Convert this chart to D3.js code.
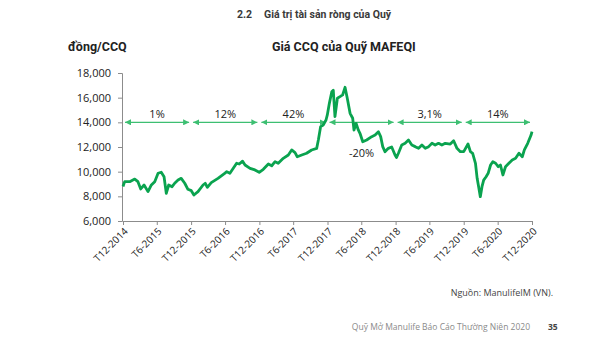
<!DOCTYPE html>
<html><head><meta charset="utf-8">
<script src="https://cdn.jsdelivr.net/npm/d3@7"></script>
<style>
html,body{margin:0;padding:0;background:#fff;}
svg{display:block;}
</style></head>
<body>
<svg id="c" width="600" height="360"></svg>
<script>
// ---- data ----
const dates = ["2014-12-31","2015-01-09","2015-02-05","2015-03-04","2015-03-21","2015-04-05","2015-04-23","2015-05-14","2015-06-01","2015-06-19","2015-07-07","2015-07-24","2015-08-08","2015-08-20","2015-09-02","2015-09-20","2015-10-04","2015-10-22","2015-11-08","2015-11-27","2015-12-14","2016-01-01","2016-01-15","2016-02-06","2016-03-04","2016-03-16","2016-03-27","2016-04-17","2016-05-23","2016-06-28","2016-07-09","2016-07-26","2016-08-13","2016-08-31","2016-09-14","2016-10-02","2016-10-15","2016-11-11","2016-12-07","2016-12-30","2017-01-21","2017-02-17","2017-03-07","2017-03-25","2017-04-11","2017-05-08","2017-06-04","2017-06-22","2017-07-10","2017-07-22","2017-08-15","2017-09-10","2017-10-07","2017-11-03","2017-11-12","2017-11-24","2017-12-08","2017-12-23","2017-12-30","2018-01-10","2018-01-23","2018-01-31","2018-02-09","2018-02-22","2018-03-08","2018-03-22","2018-04-04","2018-04-16","2018-05-01","2018-05-15","2018-05-22","2018-06-02","2018-06-14","2018-06-23","2018-07-08","2018-07-29","2018-08-25","2018-09-12","2018-09-30","2018-10-12","2018-10-23","2018-11-04","2018-11-22","2018-12-10","2018-12-28","2019-01-05","2019-01-15","2019-02-02","2019-02-20","2019-03-10","2019-03-28","2019-04-15","2019-05-03","2019-05-21","2019-06-08","2019-06-26","2019-07-14","2019-07-31","2019-08-18","2019-09-05","2019-09-23","2019-10-20","2019-11-07","2019-11-25","2019-12-13","2019-12-31","2020-01-23","2020-02-05","2020-02-17","2020-03-03","2020-03-12","2020-03-20","2020-03-29","2020-04-07","2020-04-16","2020-04-29","2020-05-10","2020-05-23","2020-06-04","2020-06-19","2020-07-03","2020-07-15","2020-07-28","2020-08-11","2020-08-29","2020-09-16","2020-10-04","2020-10-22","2020-11-09","2020-11-20","2020-12-08","2020-12-26","2020-12-31"];
const navValues = [8800,9190,9190,9400,9190,8600,8920,8380,8920,9190,9870,9950,9590,8250,8920,8780,9060,9320,9460,9060,8570,8460,8110,8380,8920,9060,8730,9110,9460,9870,10000,9870,10270,10680,10620,10850,10540,10270,10140,9950,10190,10620,10480,10810,10680,11080,11350,11760,11540,11210,11350,11490,11760,11890,12570,13650,13780,14190,14600,15540,16480,16600,14460,15950,16080,16220,16840,15950,14730,14330,13380,13920,13380,13110,12430,12570,12840,12970,13240,12840,12030,11620,11890,12000,11350,11150,11490,12160,12300,12570,12160,12030,11890,12160,11890,12030,12300,12160,12300,12160,12300,12240,12510,11890,11620,11620,12240,11620,11490,10680,9460,8780,7970,8780,9320,9590,9870,10540,10810,10680,10400,10540,9730,10400,10680,10950,11080,11490,11210,11760,12300,12970,13240];

const yTicks = [6000,8000,10000,12000,14000,16000,18000];
const xTickDates = ["2014-12-31","2015-06-30","2015-12-31","2016-06-30","2016-12-31","2017-06-30","2017-12-31","2018-06-30","2018-12-31","2019-06-30","2019-12-31","2020-06-30","2020-12-31"];
const xTickLabels = ["T12-2014","T6-2015","T12-2015","T6-2016","T12-2016","T6-2017","T12-2017","T6-2018","T12-2018","T6-2019","T12-2019","T6-2020","T12-2020"];

const periodStarts = ["2014-12-31","2015-12-31","2016-12-31","2017-12-31","2018-12-31","2019-12-31"];
const periodEnds   = ["2015-12-31","2016-12-31","2017-12-31","2018-12-31","2019-12-31","2020-12-31"];
const periodLabels = ["1%","12%","42%","-20%","3,1%","14%"];
const periodLevel = 14000;

// ---- chart ----
const parse = d3.timeParse("%Y-%m-%d");
const svg = d3.select("#c");
const x = d3.scaleTime().domain([parse("2014-12-31"), parse("2020-12-31")]).range([123, 532]);
const y = d3.scaleLinear().domain([6000, 18000]).range([221, 73]);

const green = "#0aa34f";
const arrowGreen = "#3dbf72";
const textCol = "#222";
const font = "'Open Sans', 'Noto Sans', sans-serif";

// header
svg.append("text").attr("x", 237).attr("y", 18).attr("font-family", "Roboto, sans-serif")
  .attr("font-weight", "bold").attr("font-size", 10.5).attr("fill", "#3a3a3a").text("2.2");
svg.append("text").attr("x", 264).attr("y", 18).attr("font-family", "Roboto, sans-serif")
  .attr("font-weight", "bold").attr("font-size", 10.5).attr("fill", "#3a3a3a").text("Giá trị tài sản ròng của Quỹ");

// titles
svg.append("text").attr("x", 68).attr("y", 51).attr("font-family", "Roboto, sans-serif")
  .attr("font-weight", "bold").attr("font-size", 12.5).attr("fill", textCol).text("đồng/CCQ");
svg.append("text").attr("x", 272).attr("y", 51).attr("font-family", "Roboto, sans-serif")
  .attr("font-weight", "bold").attr("font-size", 12.5).attr("fill", textCol).text("Giá CCQ của Quỹ MAFEQI");

// y axis
const gy = svg.append("g").attr("transform", "translate(122,0)")
  .call(d3.axisLeft(y).tickValues(yTicks).tickFormat(d3.format(",")).tickSize(4).tickPadding(7));
gy.select(".domain").attr("stroke", "#8c8c8c");
gy.selectAll(".tick line").attr("stroke", "#8c8c8c");
gy.selectAll(".tick text").attr("font-family", font).attr("font-size", 11).attr("fill", textCol);

// x axis
const gx = svg.append("g").attr("transform", "translate(0,221)")
  .call(d3.axisBottom(x).tickValues(xTickDates.map(parse)).tickFormat((d, i) => xTickLabels[i]).tickSize(4).tickSizeOuter(0));
gx.select(".domain").attr("stroke", "#8c8c8c");
gx.selectAll(".tick line").attr("stroke", "#8c8c8c");
gx.selectAll(".tick text").attr("font-family", font).attr("font-size", 10).attr("fill", textCol)
  .attr("text-anchor", "end").attr("dy", null).attr("y", 0)
  .attr("transform", "translate(5,11) rotate(-45)");

// period arrows
const defs = svg.append("defs");
function marker(id, path) {
  defs.append("marker").attr("id", id).attr("viewBox", "0 0 10 10").attr("refX", 10).attr("refY", 5)
    .attr("markerWidth", 5).attr("markerHeight", 5).attr("orient", "auto-start-reverse")
    .append("path").attr("d", path).attr("fill", arrowGreen);
}
marker("ah", "M0,0 L10,5 L0,10 z");
const py = y(periodLevel);
periodStarts.forEach((s, i) => {
  const x1 = x(parse(s)) + 2, x2 = x(parse(periodEnds[i])) - 2;
  svg.append("line").attr("x1", x1).attr("x2", x2).attr("y1", py).attr("y2", py)
    .attr("stroke", arrowGreen).attr("stroke-width", 1.2)
    .attr("marker-start", "url(#ah)").attr("marker-end", "url(#ah)");
  const mid = (x1 + x2) / 2;
  const below = periodLabels[i].startsWith("-");
  svg.append("text").attr("x", mid).attr("y", below ? py + 35 : py - 4)
    .attr("text-anchor", "middle").attr("font-family", font).attr("font-size", 11).attr("fill", textCol)
    .text(periodLabels[i]);
});

// line
const series = dates.map((d, i) => ({ date: parse(d), v: navValues[i] }));
svg.append("path").datum(series)
  .attr("fill", "none").attr("stroke", green).attr("stroke-width", 2.8).attr("stroke-linejoin", "round")
  .attr("d", d3.line().x(d => x(d.date)).y(d => y(d.v)));

// footer
svg.append("text").attr("x", 553).attr("y", 296).attr("text-anchor", "end").attr("font-family", font)
  .attr("font-size", 9).attr("fill", "#444").text("Nguồn: ManulifeIM (VN).");
svg.append("text").attr("x", 530).attr("y", 330).attr("text-anchor", "end").attr("font-family", font)
  .attr("font-size", 8.5).attr("fill", "#8a8a8a").text("Quỹ Mở Manulife Báo Cáo Thường Niên 2020");
svg.append("text").attr("x", 548).attr("y", 330).attr("font-family", font).attr("font-weight", "bold")
  .attr("font-size", 8.5).attr("fill", "#444").text("35");
</script>
</body></html>
